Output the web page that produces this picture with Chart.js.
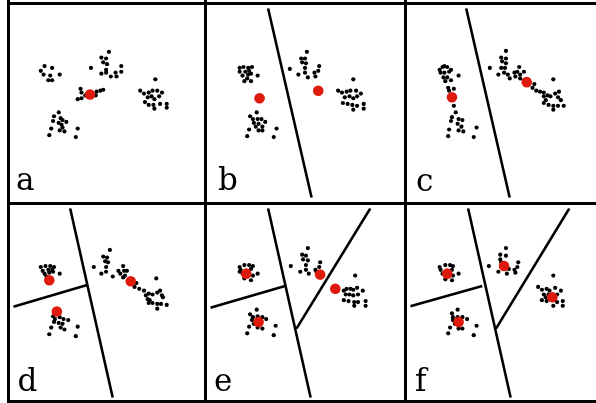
<!DOCTYPE html>
<html>
<head>
<meta charset="utf-8">
<script src="https://cdn.jsdelivr.net/npm/chart.js@4"></script>
<style>
  html, body { margin: 0; padding: 0; background: #fff; }
  #wrap { position: relative; width: 596px; height: 403px; overflow: hidden; background: #fff; }
  .cell { position: absolute; width: 200px; height: 200px; }
  .cell canvas { display: block; }
  .rule { position: absolute; background: #000; z-index: 5; }
  .lab { position: absolute; font-family: "DejaVu Serif", serif; font-size: 31px; line-height: 31px; color: #000; z-index: 6; }
</style>
</head>
<body>
<div id="wrap"></div>
<script>
// Panel letters
const panelLabels = ['a', 'b', 'c', 'd', 'e', 'f'];

// Data points per panel, [x, y] in panel units (0..200, y measured downward)
const ptsA = [
  [33,61],[41,63],[29,66],[32,70],[39,71],[49,70],[37,76],[41,76],
  [101,46],[93,52],[98,53],[95,57],[99,59],[82,63],[114,61],[98,65],[93,69],[98,68],[103,72],[108,68],[109,72],[114,67],
  [71,85],[72,89],[68,96],[72,95],[76,92],[88,88],[92,87],[95,86],[87,92],
  [150,75],[134,87],[138,90],[143,89],[147,87],[152,87],[157,89],[142,94],[146,93],[149,96],[154,93],[139,99],[143,102],[148,102],[155,101],[162,101],[162,105],[149,106],
  [48,110],[43,114],[50,116],[42,119],[52,118],[56,120],[48,121],[51,123],[52,126],[40,127],[49,129],[54,130],[68,127],[38,134],[66,136]
];
const ptsB = [
  [31,63],[35,62],[40,63],[44,62],[31,67],[37,67],[41,66],[34,71],[40,70],[43,69],[50,71],[36,77],[43,77],[39,74],
  [102,46],[96,53],[100,53],[97,57],[101,58],[84,64],[115,61],[100,63],[93,70],[100,68],[103,73],[110,68],[111,72],[114,66],
  [151,75],[135,87],[139,89],[144,88],[148,87],[154,87],[159,90],[142,94],[147,93],[151,95],[155,93],[140,100],[145,101],[150,102],[155,103],[162,101],[162,106],[151,107],
  [49,110],[42,114],[45,117],[50,117],[54,117],[58,120],[46,121],[51,122],[55,125],[48,125],[41,128],[51,129],[55,129],[70,127],[39,135],[67,136]
];
const ptsC = [
  [31,65],[34,62],[36,61],[39,62],[43,65],[32,68],[36,68],[41,67],[35,73],[39,73],[43,76],[51,71],[37,77],[40,84],[46,85],[41,87],
  [46,103],[48,110],[44,115],[51,117],[55,118],[43,119],[50,122],[54,125],[41,128],[51,129],[56,130],[70,126],[40,135],[67,136],
  [101,45],[96,52],[101,53],[97,56],[101,58],[84,63],[96,63],[100,63],[93,70],[99,68],[103,70],[105,74],[110,68],[115,62],[113,67],[120,67],[116,70],[111,72],[116,74],[120,76],
  [131,80],[129,84],[133,87],[137,88],[141,89],[151,75],[141,93],[145,92],[148,93],[153,90],[157,88],[156,94],[143,97],[141,100],[146,102],[151,103],[156,103],[162,103],[151,107],[159,97]
];
const ptsD = [
  [29,62],[34,61],[39,61],[43,62],[31,66],[37,65],[41,65],[33,69],[38,68],[42,67],[49,69],[35,72],
  [42,114],[44,117],[49,115],[53,117],[58,118],[43,120],[48,121],[52,122],[50,126],[54,128],[40,126],[68,125],[38,133],[66,135],
  [102,44],[95,51],[99,52],[97,56],[100,57],[85,62],[98,62],[93,69],[98,67],[105,72],[116,61],[111,66],[117,66],[113,69],[120,66],[118,71],[116,73],
  [130,79],[128,83],[133,85],[138,87],[151,74],[140,92],[143,90],[147,91],[152,89],[155,87],[157,92],[142,96],[143,100],[147,100],[152,101],[156,101],[162,102],[152,106],[158,94],[144,97]
];
const ptsE = [
  [31,62],[36,60],[41,60],[45,61],[32,65],[43,64],[31,67],[34,69],[45,71],[36,74],[43,76],[50,69],
  [49,107],[42,112],[45,115],[50,114],[55,115],[59,117],[44,118],[50,126],[55,127],[41,125],[69,124],[39,132],[67,134],[46,122],
  [103,42],[97,49],[101,50],[98,54],[103,55],[85,61],[116,57],[101,60],[95,67],[101,65],[104,69],[111,65],[115,62],[112,67],
  [153,71],[141,87],[144,85],[148,85],[151,86],[155,84],[161,87],[143,91],[147,91],[151,92],[156,91],[141,97],[146,98],[152,99],[156,99],[164,98],[164,103],[152,103]
];
const ptsF = [
  [31,62],[37,60],[42,60],[45,61],[32,65],[44,65],[34,69],[45,71],[37,75],[44,76],[51,69],
  [50,107],[44,111],[45,115],[50,115],[55,115],[60,117],[45,118],[51,127],[55,127],[42,126],[70,124],[40,132],[67,134],[47,122],
  [101,42],[95,49],[101,50],[95,54],[83,61],[114,57],[113,62],[93,67],[102,69],[110,65],[111,68],[96,57],[104,64],
  [151,71],[135,83],[139,86],[144,85],[147,87],[153,84],[159,87],[141,91],[146,91],[155,91],[139,97],[144,98],[155,99],[161,98],[161,103],[151,103],[143,94]
];

// Centroids per panel
const cenA = [[81,91]];
const cenB = [[52,95],[114,87]];
const cenC = [[44,94],[123,78]];
const cenD = [[38,76],[46,109],[124,77]];
const cenE = [[38,69],[51,120],[116,70],[132,85]];
const cenF = [[39,69],[51,120],[99,61],[150,94]];

// Boundary segments per panel
const segA = [];
const segB = [[[61,0],[107,200]]];
const segC = [[[59,0],[105,200]]];
const segD = [[[60,0],[105,200]], [[0,104],[78,81]]];
const segE = [[[61,0],[106,200]], [[0,105],[79,82]], [[91,127],[169,0]]];
const segF = [[[61,0],[106,200]], [[0,103.5],[76,82]], [[90.5,127],[168,0]]];

const panels = [
  { label: panelLabels[0], pts: ptsA, cen: cenA, seg: segA },
  { label: panelLabels[1], pts: ptsB, cen: cenB, seg: segB },
  { label: panelLabels[2], pts: ptsC, cen: cenC, seg: segC },
  { label: panelLabels[3], pts: ptsD, cen: cenD, seg: segD },
  { label: panelLabels[4], pts: ptsE, cen: cenE, seg: segE },
  { label: panelLabels[5], pts: ptsF, cen: cenF, seg: segF }
];

// layout
const cellLeft = [8, 205, 405];
const cellTop = [3, 203];
const labLeft = [16, 218, 416, 17.5, 214, 415];
const labTop = [164, 164, 164.5, 364.5, 365, 364.5];

const wrap = document.getElementById('wrap');
const toXY = a => a.map(p => ({ x: p[0], y: p[1] }));

panels.forEach((p, i) => {
  const col = i % 3, row = Math.floor(i / 3);
  const cell = document.createElement('div');
  cell.className = 'cell';
  cell.style.left = cellLeft[col] + 'px';
  cell.style.top = cellTop[row] + 'px';
  const cv = document.createElement('canvas');
  cv.width = 200; cv.height = 200;
  cv.style.width = '200px'; cv.style.height = '200px';
  cell.appendChild(cv);
  wrap.appendChild(cell);

  const datasets = [];
  datasets.push({
    data: toXY(p.cen), pointRadius: 5.3, pointHoverRadius: 5.3,
    pointBackgroundColor: '#dd1a0c', pointBorderWidth: 0, showLine: false
  });
  datasets.push({
    data: toXY(p.pts), pointRadius: 2.1, pointHoverRadius: 2.1,
    pointBackgroundColor: '#000', pointBorderWidth: 0, showLine: false
  });
  p.seg.forEach(s => {
    datasets.push({
      data: toXY(s), showLine: true, pointRadius: 0, borderColor: '#000',
      borderWidth: 2.6, fill: false, tension: 0
    });
  });

  new Chart(cv, {
    type: 'scatter',
    data: { datasets },
    options: {
      responsive: false, animation: false, devicePixelRatio: 1,
      layout: { padding: 0 },
      events: [],
      scales: {
        x: { type: 'linear', min: 0, max: 200, display: false },
        y: { type: 'linear', min: 0, max: 200, reverse: true, display: false }
      },
      plugins: { legend: { display: false }, tooltip: { enabled: false } }
    }
  });

  const lab = document.createElement('div');
  lab.className = 'lab';
  lab.textContent = p.label;
  lab.style.left = labLeft[i] + 'px';
  lab.style.top = labTop[i] + 'px';
  wrap.appendChild(lab);
});

// frame rules
[[7, 0, 3, 403], [204, 0, 3, 403], [404, 0, 3, 403]].forEach(r => addRule(r));
[[7, 2, 600, 3], [7, 202, 600, 3], [7, 400, 600, 3]].forEach(r => addRule(r));
function addRule(r) {
  const d = document.createElement('div');
  d.className = 'rule';
  d.style.left = r[0] + 'px'; d.style.top = r[1] + 'px';
  d.style.width = r[2] + 'px'; d.style.height = r[3] + 'px';
  wrap.appendChild(d);
}
</script>
</body>
</html>
